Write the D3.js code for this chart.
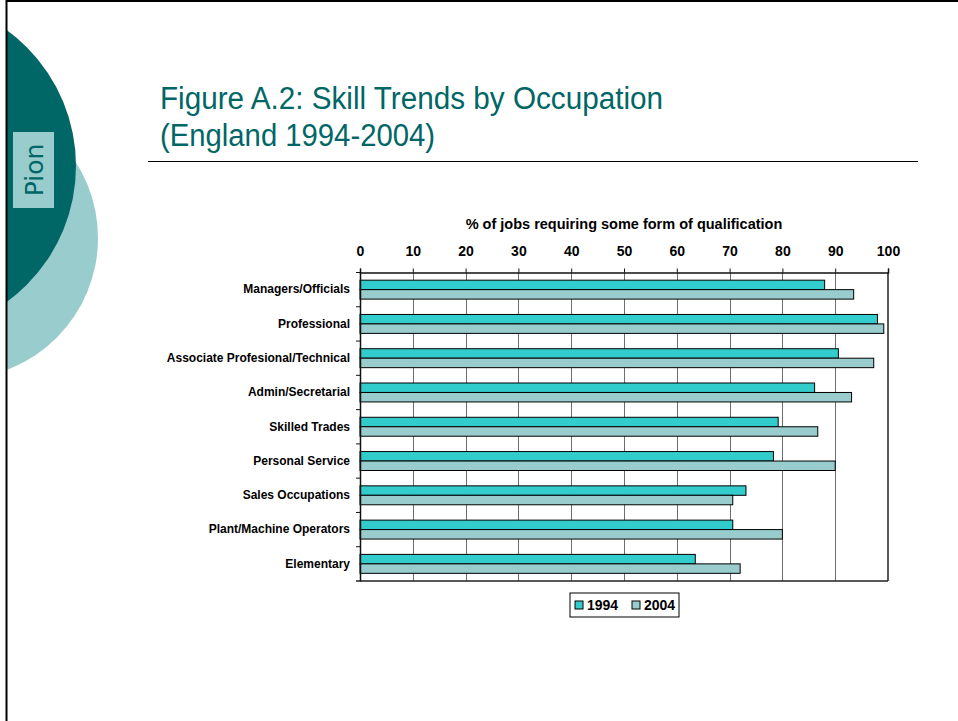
<!DOCTYPE html>
<html>
<head>
<meta charset="utf-8">
<script src="https://cdn.jsdelivr.net/npm/d3@7"></script>
<style>
  html, body { margin: 0; padding: 0; background: #fff; }
  svg { display: block; }
  text { font-family: "Liberation Sans", Arial, sans-serif; }
</style>
</head>
<body>
<svg id="chart" width="958" height="721"></svg>
<script>
// Occupations, top to bottom
const categories = [
  "Managers/Officials",
  "Professional",
  "Associate Profesional/Technical",
  "Admin/Secretarial",
  "Skilled Trades",
  "Personal Service",
  "Sales Occupations",
  "Plant/Machine Operators",
  "Elementary"
];
const seriesNames = ["1994", "2004"];
// % of jobs requiring some form of qualification
const values1994 = [88, 98, 90.6, 86.1, 79.2, 78.3, 73.1, 70.6, 63.5];
const values2004 = [93.5, 99.2, 97.3, 93.1, 86.7, 90, 70.6, 80, 72];
const xTicks = [0, 10, 20, 30, 40, 50, 60, 70, 80, 90, 100];

const seriesColors = { "1994": "#33CCCC", "2004": "#99CCCC" };
const teal = "#006666";

const svg = d3.select("#chart");

// ---- slide decoration ----
const deco = svg.append("g");
deco.append("clipPath").attr("id", "leftClip")
  .append("rect").attr("x", 7).attr("y", 0).attr("width", 200).attr("height", 721);
const circles = deco.append("g").attr("clip-path", "url(#leftClip)");
circles.append("circle").attr("cx", -43).attr("cy", 238).attr("r", 141).attr("fill", "#99CCCC");
circles.append("circle").attr("cx", -92).attr("cy", 166).attr("r", 168).attr("fill", teal);
deco.append("rect").attr("x", 13).attr("y", 132).attr("width", 41).attr("height", 76).attr("fill", "#99CCCC");
deco.append("text")
  .attr("transform", "translate(43,170) rotate(-90)")
  .attr("text-anchor", "middle")
  .style("font-family", "'DejaVu Sans', sans-serif")
  .style("font-size", "25px")
  .attr("fill", teal)
  .text("Pion");
// slide frame
deco.append("line").attr("x1", 6.5).attr("x2", 6.5).attr("y1", 0).attr("y2", 721)
  .attr("stroke", "#000").attr("stroke-width", 2);
deco.append("line").attr("x1", 6).attr("x2", 958).attr("y1", 1).attr("y2", 1)
  .attr("stroke", "#000").attr("stroke-width", 2);

// ---- title ----
const title = svg.append("g").attr("fill", teal).style("font-size", "31px");
title.append("text").attr("x", 160).attr("y", 109)
  .attr("textLength", 503).attr("lengthAdjust", "spacingAndGlyphs")
  .text("Figure A.2: Skill Trends by Occupation");
title.append("text").attr("x", 160).attr("y", 146)
  .attr("textLength", 275).attr("lengthAdjust", "spacingAndGlyphs")
  .text("(England 1994-2004)");
svg.append("line").attr("x1", 148).attr("x2", 918).attr("y1", 161.5).attr("y2", 161.5)
  .attr("stroke", "#000").attr("stroke-width", 1);

// ---- chart ----
const plot = { left: 360, right: 888, top: 272.5, bottom: 581 };

const x = d3.scaleLinear().domain([0, 100]).range([plot.left, plot.right]);
const y = d3.scaleBand().domain(categories).range([plot.top, plot.bottom]).padding(0);
const yInner = d3.scaleBand().domain(seriesNames).range([0, y.bandwidth()])
  .paddingInner(0).paddingOuter(0.81);

const g = svg.append("g");

// vertical gridlines
g.append("g").selectAll("line")
  .data(xTicks.filter(t => t > 0 && t < 100))
  .join("line")
  .attr("x1", d => Math.round(x(d)) + 0.5).attr("x2", d => Math.round(x(d)) + 0.5)
  .attr("y1", plot.top).attr("y2", plot.bottom)
  .attr("stroke", "#6e6e6e").attr("stroke-width", 1);

// bars
const rows = categories.map((c, i) => ({ cat: c, vals: [
  { s: "1994", v: values1994[i] },
  { s: "2004", v: values2004[i] }
]}));

g.append("g").selectAll("g")
  .data(rows)
  .join("g")
  .attr("transform", d => `translate(0,${y(d.cat)})`)
  .selectAll("rect")
  .data(d => d.vals)
  .join("rect")
  .attr("x", x(0))
  .attr("y", d => yInner(d.s))
  .attr("width", d => x(d.v) - x(0))
  .attr("height", yInner.bandwidth())
  .attr("fill", d => seriesColors[d.s])
  .attr("stroke", "#000").attr("stroke-width", 1);

// plot frame: right and bottom edges
g.append("line").attr("x1", plot.right).attr("x2", plot.right)
  .attr("y1", plot.top).attr("y2", plot.bottom).attr("stroke", "#222").attr("stroke-width", 1.5);
g.append("line").attr("x1", plot.left - 4).attr("x2", plot.right)
  .attr("y1", plot.bottom).attr("y2", plot.bottom).attr("stroke", "#222").attr("stroke-width", 1.5);

// top value axis
const xAxis = d3.axisTop(x).tickValues(xTicks).tickSize(4).tickPadding(13).tickFormat(d3.format("d"));
const xa = g.append("g").attr("transform", `translate(0,${plot.top})`).call(xAxis);
xa.select(".domain").attr("stroke", "#111").attr("stroke-width", 1.5);
xa.selectAll(".tick line").attr("stroke", "#111");
xa.selectAll(".tick text")
  .style("font-family", "'Liberation Sans', Arial, sans-serif")
  .style("font-size", "14px").style("font-weight", "bold").attr("fill", "#000");

// axis title
g.append("text")
  .attr("x", (plot.left + plot.right) / 2).attr("y", 229)
  .attr("text-anchor", "middle")
  .style("font-size", "14.5px").style("font-weight", "bold")
  .text("% of jobs requiring some form of qualification");

// left category axis
const yAxis = d3.axisLeft(y).tickSize(0).tickPadding(10);
const ya = g.append("g").attr("transform", `translate(${plot.left},0)`).call(yAxis);
ya.select(".domain").attr("stroke", "#111").attr("stroke-width", 1.5);
ya.selectAll(".tick text")
  .style("font-family", "'Liberation Sans', Arial, sans-serif")
  .style("font-size", "12px").style("font-weight", "bold").attr("fill", "#000");
// tick marks at category boundaries
ya.append("g").selectAll("line")
  .data(categories.slice(1))
  .join("line")
  .attr("x1", -4).attr("x2", 0)
  .attr("y1", d => y(d)).attr("y2", d => y(d))
  .attr("stroke", "#111");
ya.append("line").attr("x1", -4).attr("x2", 0)
  .attr("y1", plot.top).attr("y2", plot.top).attr("stroke", "#111");

// legend
const legend = svg.append("g").attr("transform", "translate(570,593)");
legend.append("rect").attr("x", 0).attr("y", 0).attr("width", 109).attr("height", 24)
  .attr("fill", "#fff").attr("stroke", "#000").attr("stroke-width", 1);
const legendX = d3.scaleOrdinal().domain(seriesNames).range([5, 62]);
const li = legend.selectAll("g.item").data(seriesNames).join("g")
  .attr("class", "item")
  .attr("transform", d => `translate(${legendX(d)},0)`);
li.append("rect").attr("x", 0).attr("y", 8).attr("width", 8).attr("height", 8)
  .attr("fill", d => seriesColors[d]).attr("stroke", "#000").attr("stroke-width", 1);
li.append("text").attr("x", 12).attr("y", 17)
  .style("font-size", "14px").style("font-weight", "bold")
  .text(d => d);
</script>
</body>
</html>
